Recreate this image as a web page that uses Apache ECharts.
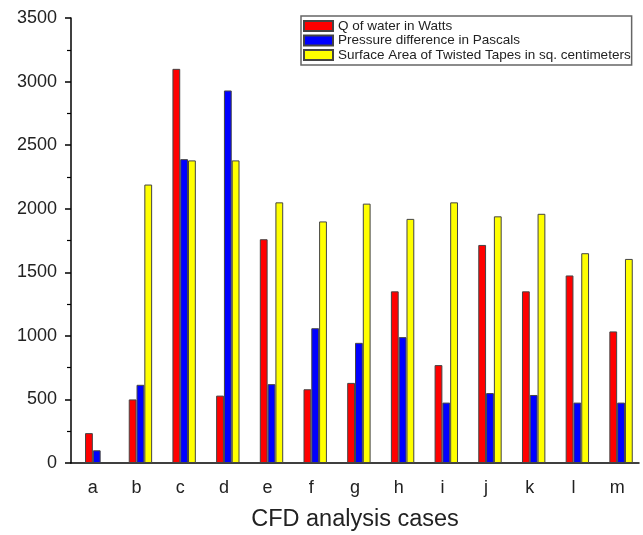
<!DOCTYPE html>
<html><head><meta charset="utf-8">
<script src="https://cdn.jsdelivr.net/npm/echarts@6/dist/echarts.min.js"></script>
<style>html,body{margin:0;padding:0;background:#fff}#c{width:643px;height:535px}</style>
</head><body><div id="c"></div>
<script>
const categories = ['a','b','c','d','e','f','g','h','i','j','k','l','m'];
const qWater = [235, 500, 3100, 530, 1760, 580, 630, 1350, 770, 1715, 1350, 1475, 1035];
const pressure = [100, 615, 2390, 2930, 620, 1060, 945, 990, 475, 550, 535, 475, 475];
const surfaceArea = [null, 2190, 2380, 2380, 2050, 1900, 2040, 1920, 2050, 1940, 1960, 1650, 1605];
const seriesNames = ['Q of water in Watts', 'Pressure difference in Pascals', 'Surface Area of Twisted Tapes in sq. centimeters'];
const colors = ['#ff0000', '#0000ff', '#ffff00'];

const chart = echarts.init(document.getElementById('c'));
const font = 'Liberation Sans, Arial, sans-serif';
const mk = (name, data, color) => ({
  name, type: 'bar', data, barWidth: 7.8, barGap: '0%',
  itemStyle: { color, borderColor: '#444', borderWidth: 1 }
});
chart.setOption({
  animation: false,
  textStyle: { fontFamily: font },
  grid: { left: 71, right: 4, top: 18, bottom: 72, outerBoundsMode: 'none', containLabel: false },
  legend: {
    orient: 'vertical', left: 301, top: 16,
    itemWidth: 29, itemHeight: 10, itemGap: 0.5,
    borderColor: '#666', borderWidth: 1.5, padding: [3, 1, 3, 2],
    icon: 'rect',
    textStyle: { fontSize: 13.5, lineHeight: 14, color: '#222', fontFamily: font },
    data: seriesNames
  },
  xAxis: [{
    type: 'category', data: categories,
    name: 'CFD analysis cases', nameLocation: 'middle', nameGap: 45,
    nameTextStyle: { fontSize: 23.5, color: '#222', fontFamily: font },
    axisLine: { lineStyle: { color: '#000', width: 1.5 } },
    axisTick: { alignWithLabel: true, length: 6, lineStyle: { color: '#000', width: 1.5 } },
    axisLabel: { fontSize: 18, color: '#222', margin: 16 }
  }, {
    type: 'category', data: categories, position: 'bottom',
    axisLine: { show: false },
    axisTick: { length: 3, lineStyle: { color: '#000', width: 1.2 } },
    axisLabel: { show: false }
  }],
  yAxis: {
    type: 'value', min: 0, max: 3500, interval: 500,
    axisLine: { show: true, lineStyle: { color: '#000', width: 1.5 } },
    axisTick: { show: true, length: 6, lineStyle: { color: '#000', width: 1.5 } },
    minorTick: { show: true, splitNumber: 2, length: 4, lineStyle: { color: '#000', width: 1.2 } },
    splitLine: { show: false },
    axisLabel: { fontSize: 18, color: '#222', margin: 14, formatter: v => String(v) }
  },
  series: [
    { name: 'spacer', type: 'bar', data: categories.map(() => null), barWidth: 7.8, barGap: '0%' },
    mk(seriesNames[0], qWater, colors[0]),
    mk(seriesNames[1], pressure, colors[1]),
    mk(seriesNames[2], surfaceArea, colors[2])
  ]
});
</script></body></html>
